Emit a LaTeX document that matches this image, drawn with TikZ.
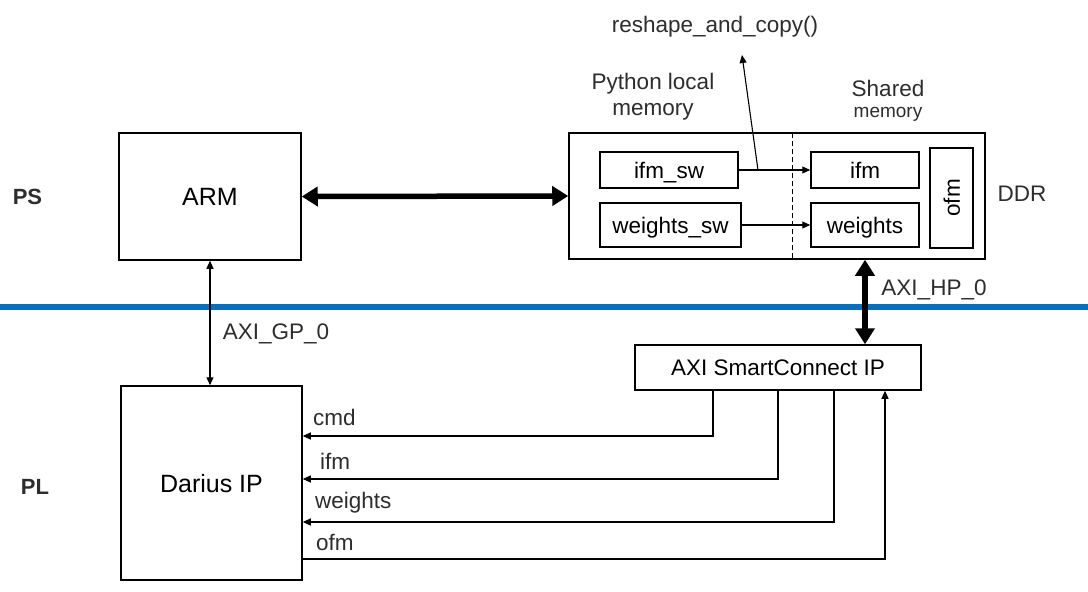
\documentclass[tikz,border=0pt]{standalone}
\usepackage{fontspec}
\setmainfont{Liberation Sans}
\usetikzlibrary{arrows.meta}
\definecolor{psblue}{RGB}{8,110,190}
\definecolor{txt}{RGB}{45,45,45}
\begin{document}
\begin{tikzpicture}[x=1pt,y=-1pt,
  box/.style={draw, line width=1.5pt, inner sep=0pt, text height=16.5pt, text depth=0pt, font=\fontsize{22.5}{26}\selectfont},
  bigbox/.style={box, text height=18pt, font=\fontsize{25}{30}\selectfont},
  lbl/.style={text=txt, inner sep=0pt, font=\fontsize{22.5}{26}\selectfont},
  side/.style={text=txt, inner sep=0pt, font=\bfseries\fontsize{22}{26}\selectfont},
  thinarrow/.style={line width=1.1pt, -{Triangle[length=8pt,width=7pt]}},
  thinboth/.style={line width=1.1pt, {Triangle[length=8pt,width=7pt]}-{Triangle[length=8pt,width=7pt]}},
  thickarrow/.style={line width=5.5pt, {Triangle[length=16pt,width=19pt]}-{Triangle[length=16pt,width=19pt]}}
]
\useasboundingbox[fill=white] (0,0) rectangle (1088,592);

% separator line
\draw[psblue, line width=6.5pt] (0,307) -- (1088,307);

% side labels
\node[side] (ps) at (27.5,197) {PS};
\node[side] (pl) at (35,487) {PL};

% main boxes
\node[bigbox, minimum width=182pt, minimum height=127pt] (arm) at (210,196.5) {ARM};
\node[bigbox, minimum width=181pt, minimum height=194pt] (darius) at (211.5,483) {Darius IP};
\node[box, minimum width=416pt, minimum height=126pt] (ddr) at (777,196) {};
\node[box, minimum width=286pt, minimum height=45pt] (axi) at (778,367.5) {AXI SmartConnect IP};

% DDR content
\node[box, minimum width=138pt, minimum height=36pt] (ifmsw) at (669,170) {ifm\_sw};
\node[box, minimum width=141pt, minimum height=44pt] (wsw) at (670.5,225) {weights\_sw};
\node[box, minimum width=108pt, minimum height=36pt] (ifm) at (865,170) {ifm};
\node[box, minimum width=108pt, minimum height=44pt] (w) at (865,225) {weights};
\node[box, rotate=90, minimum width=100pt, minimum height=43pt] (ofm) at (951.5,198) {ofm};

\coordinate (dtop) at (792,133);
\coordinate (dbot) at (792,259);
\draw[line width=1pt, dash pattern=on 5pt off 3pt] (dtop) -- (dbot);

% labels top
\node[lbl] (reshape) at (715,27) {reshape\_and\_copy()};
\node[lbl, align=center] (pylocal) at (653,97) {Python local\\memory};
\node[lbl] (shared) at (888,88) {Shared};
\node[lbl, font=\fontsize{19}{22}\selectfont] (sharedmem) at (888,114) {memory};
\node[lbl] (ddrlbl) at (1022,194) {DDR};
\node[lbl] (hp) at (934,290) {AXI\_HP\_0};
\node[lbl] (gp) at (276,334) {AXI\_GP\_0};

% DDR internal arrows
\draw[thinarrow] (ifmsw.east) -- (ifm.west);
\draw[thinarrow] (wsw.east) -- (w.west);
\coordinate (rs) at (758,170);
\coordinate (rstip) at (742,55);
\draw[thinarrow] (rs) -- (rstip);

% buses
\draw[thickarrow] (arm.east) -- (ddr.west);
\coordinate (hpx) at (865,0);
\draw[thickarrow] (hpx |- ddr.south) -- (hpx |- axi.north);
\draw[thinboth] (arm.south) -- (arm.south |- darius.north);

% signals
\coordinate (cmdc) at (713,436);
\coordinate (ifmc) at (778,479);
\coordinate (wc) at (834,522);
\coordinate (ofmc) at (885,559);
\draw[thinarrow] (cmdc |- axi.south) -- (cmdc) -- (cmdc -| darius.east);
\draw[thinarrow] (ifmc |- axi.south) -- (ifmc) -- (ifmc -| darius.east);
\draw[thinarrow] (wc |- axi.south) -- (wc) -- (wc -| darius.east);
\draw[thinarrow] (ofmc -| darius.east) -- (ofmc) -- (ofmc |- axi.south);

\node[lbl, anchor=west] (cmdl) at (313,417) {cmd};
\node[lbl, anchor=west] (ifml) at (320,461) {ifm};
\node[lbl, anchor=west] (wl) at (315,503) {weights};
\node[lbl, anchor=west] (ofml) at (316,542) {ofm};
\end{tikzpicture}
\end{document}
